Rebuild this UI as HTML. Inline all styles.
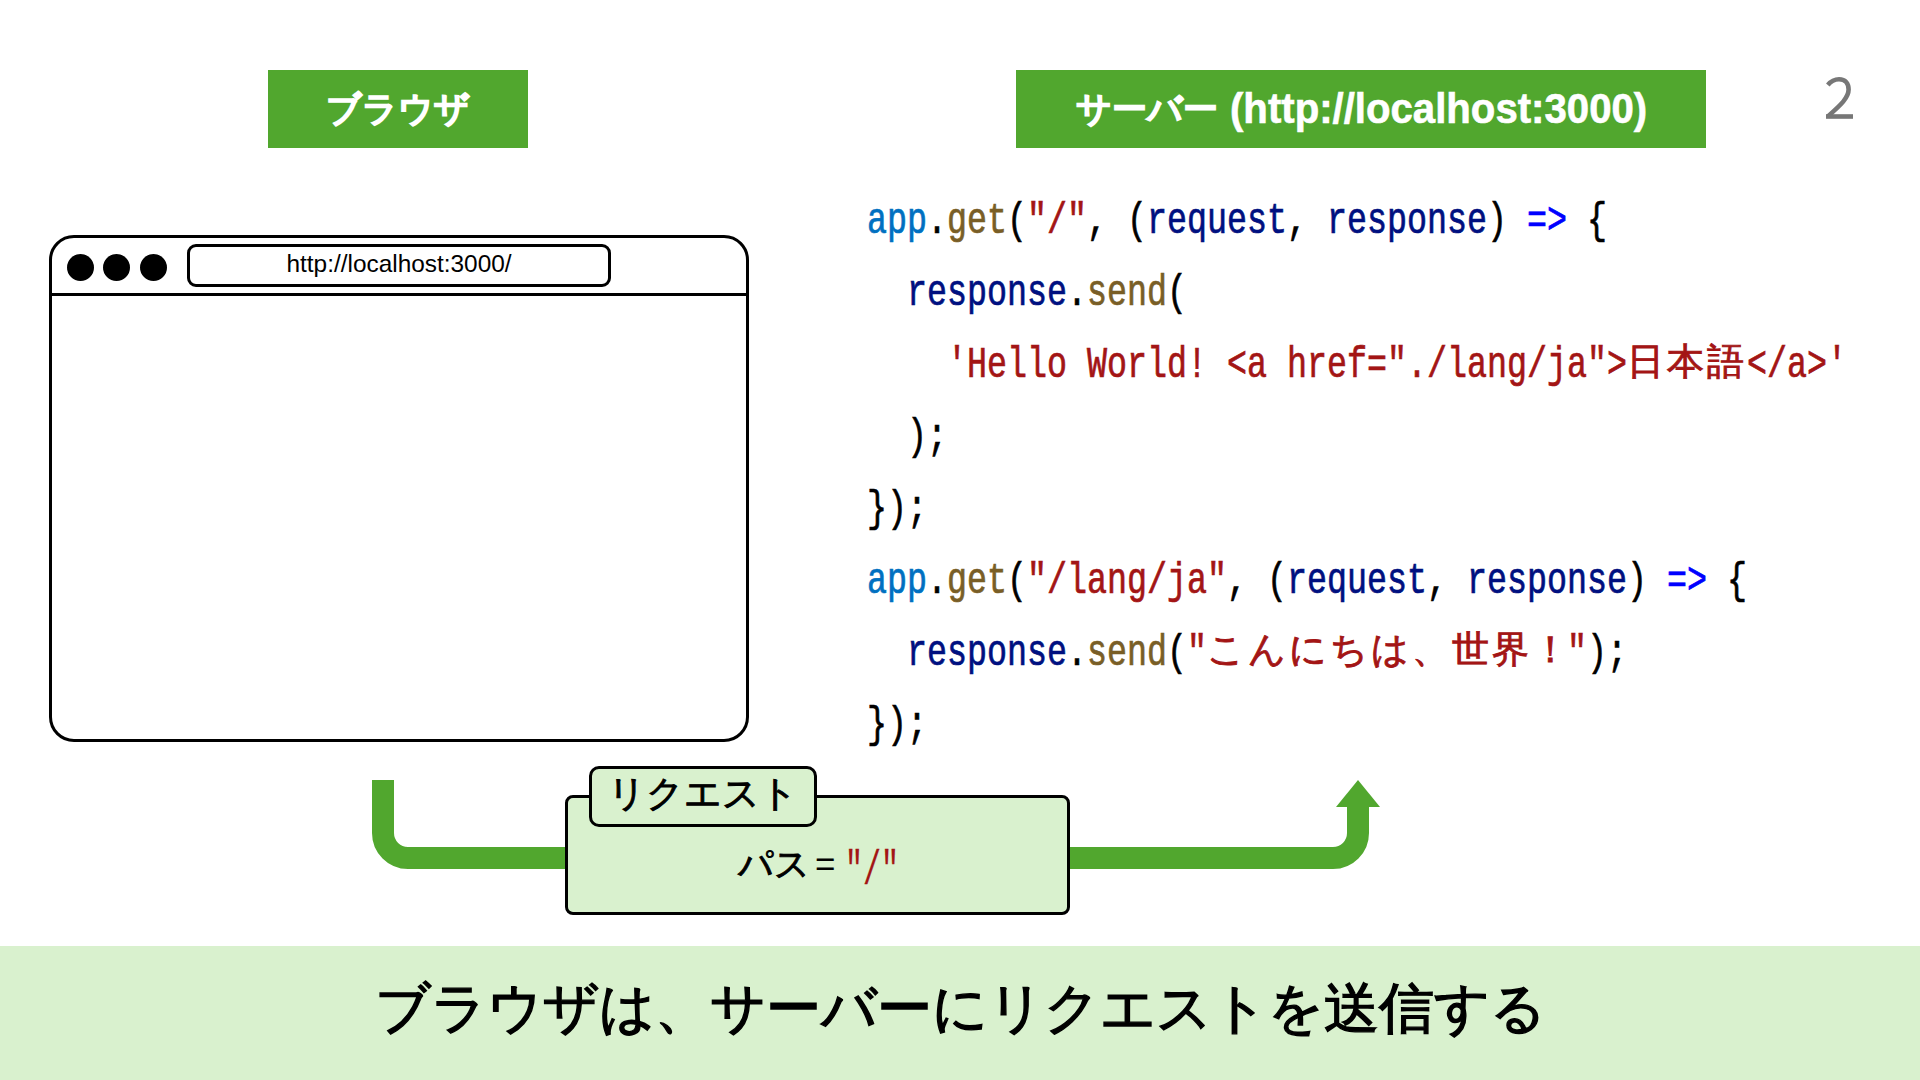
<!DOCTYPE html>
<html><head><meta charset="utf-8">
<style>
html,body{margin:0;padding:0;}
body{width:1920px;height:1080px;position:relative;overflow:hidden;background:#fff;font-family:"Liberation Sans",sans-serif;color:#000;}
.abs{position:absolute;}
.label{position:absolute;background:#51a72e;color:#fff;font-weight:bold;text-align:center;white-space:nowrap;}
#lb1{left:268px;top:70px;width:260px;height:78px;}
#lb2{left:1016px;top:70px;width:690px;height:78px;}
.wt{position:absolute;color:#fff;white-space:pre;}
#lt1{left:326px;top:70px;font-size:35px;line-height:78px;-webkit-text-stroke:2.2px #fff;}
#lt2{left:1076px;top:70px;font-size:35px;line-height:78px;-webkit-text-stroke:2.2px #fff;}
#lt3{left:1230px;top:70px;font-size:42px;line-height:78px;font-weight:bold;transform:scaleX(0.956);transform-origin:0 0;-webkit-text-stroke:0.6px #fff;}
#pnum{left:1822px;top:67px;font-size:61px;line-height:64px;color:#808080;}
#win{left:49px;top:235px;width:694px;height:501px;border:3px solid #000;border-radius:25px;}
#hline{left:52px;top:293px;width:694px;height:3px;background:#000;}
.dot{position:absolute;width:27px;height:27px;border-radius:50%;background:#000;top:254px;}
#url{left:187px;top:244px;width:418px;height:37px;border:3px solid #000;border-radius:9px;font-size:24.4px;line-height:33px;text-align:center;}
.as{position:absolute;font-family:"Liberation Mono",monospace;font-size:43.5px;line-height:72px;white-space:pre;transform:scaleX(0.76628);transform-origin:0 0;font-weight:normal;-webkit-text-stroke:0.7px currentColor;}
.cj{position:absolute;font-size:37px;line-height:72px;white-space:pre;letter-spacing:3px;-webkit-text-stroke:0.9px currentColor;}
.k1{color:#0070c1}.fn{color:#795e26}.st{color:#a31515}.vr{color:#001080}.op{color:#0000ff}
#banner{left:0;top:946px;width:1920px;height:134px;background:#d9f1ce;}
#bantext{left:0;top:946px;width:1920px;font-size:55px;line-height:124px;text-align:center;-webkit-text-stroke:1.4px #000;}
#box{left:565px;top:795px;width:499px;height:114px;border:3px solid #000;border-radius:8px;background:#d9f1ce;}
#tab{left:589px;top:766px;width:222px;height:55px;border:3px solid #000;border-radius:10px;background:#d9f1ce;font-size:36.5px;line-height:49px;text-align:center;-webkit-text-stroke:0.9px #000;}
#path{left:738px;top:840px;font-size:35px;line-height:48px;white-space:pre;-webkit-text-stroke:0.9px #000;}
#eq{left:815px;top:840px;font-size:35px;line-height:48px;}
#pq{left:845px;top:835px;color:#a31515;font-size:47.5px !important;transform:scaleX(0.632) !important;-webkit-text-stroke:0.3px #a31515 !important;}
</style></head><body>
<div class="label" id="lb1"></div>
<div class="label" id="lb2"></div>
<div class="wt" id="lt1">ブラウザ</div>
<div class="wt" id="lt2">サーバー</div>
<div class="wt" id="lt3">(http://localhost:3000)</div>
<svg class="abs" style="left:1800px;top:60px" width="80" height="70" viewBox="1800 60 80 70"><path d="M1827.8,85 C1830.8,81.4 1834.6,79.3 1839,79.3 C1845.6,79.3 1848.6,83.6 1848.6,89.6 C1848.6,97.6 1841.2,104.6 1827.6,116.6" fill="none" stroke="#777" stroke-width="4.6"/><rect x="1826" y="114.2" width="27" height="4.6" fill="#777"/></svg>

<div class="abs" id="win"></div>
<div class="abs" id="hline"></div>
<div class="dot" style="left:67px"></div>
<div class="dot" style="left:103px"></div>
<div class="dot" style="left:140px"></div>
<div class="abs" id="url">http://localhost:3000/</div>

<span class="as k1" style="left:867px;top:186px">app</span>
<span class="as " style="left:927px;top:186px">.</span>
<span class="as fn" style="left:947px;top:186px">get</span>
<span class="as " style="left:1007px;top:186px">(</span>
<span class="as st" style="left:1027px;top:186px">"/"</span>
<span class="as " style="left:1087px;top:186px">, (</span>
<span class="as vr" style="left:1147px;top:186px">request</span>
<span class="as " style="left:1287px;top:186px">, </span>
<span class="as vr" style="left:1327px;top:186px">response</span>
<span class="as " style="left:1487px;top:186px">) </span>
<span class="as op" style="left:1527px;top:186px">=&gt;</span>
<span class="as " style="left:1567px;top:186px"> {</span>
<span class="as vr" style="left:907px;top:258px">response</span>
<span class="as " style="left:1067px;top:258px">.</span>
<span class="as fn" style="left:1087px;top:258px">send</span>
<span class="as " style="left:1167px;top:258px">(</span>
<span class="as st" style="left:947px;top:330px">'Hello World! &lt;a href="./lang/ja"&gt;</span>
<span class="cj st" style="left:1627px;top:326px">日本語</span>
<span class="as st" style="left:1747px;top:330px">&lt;/a&gt;'</span>
<span class="as " style="left:867px;top:402px">  );</span>
<span class="as " style="left:867px;top:474px">});</span>
<span class="as k1" style="left:867px;top:546px">app</span>
<span class="as " style="left:927px;top:546px">.</span>
<span class="as fn" style="left:947px;top:546px">get</span>
<span class="as " style="left:1007px;top:546px">(</span>
<span class="as st" style="left:1027px;top:546px">"/lang/ja"</span>
<span class="as " style="left:1227px;top:546px">, (</span>
<span class="as vr" style="left:1287px;top:546px">request</span>
<span class="as " style="left:1427px;top:546px">, </span>
<span class="as vr" style="left:1467px;top:546px">response</span>
<span class="as " style="left:1627px;top:546px">) </span>
<span class="as op" style="left:1667px;top:546px">=&gt;</span>
<span class="as " style="left:1707px;top:546px"> {</span>
<span class="as vr" style="left:907px;top:618px">response</span>
<span class="as " style="left:1067px;top:618px">.</span>
<span class="as fn" style="left:1087px;top:618px">send</span>
<span class="as " style="left:1167px;top:618px">(</span>
<span class="as st" style="left:1187px;top:618px">"</span>
<span class="cj st" style="left:1207px;top:614px">こんにちは、世界！</span>
<span class="as st" style="left:1567px;top:618px">"</span>
<span class="as " style="left:1587px;top:618px">);</span>
<span class="as " style="left:867px;top:690px">});</span>
<svg class="abs" style="left:0;top:0" width="1920" height="1080">
<path d="M383,780 V833 A25,25 0 0 0 408,858 H570" fill="none" stroke="#51a72e" stroke-width="22"/>
<path d="M1066,858 H1333 A25,25 0 0 0 1358,833 V805" fill="none" stroke="#51a72e" stroke-width="22"/>
<polygon points="1336,807 1358,780 1380,807" fill="#51a72e"/>
</svg>
<div class="abs" id="box"></div>
<div class="abs" id="tab">リクエスト</div>
<div class="abs" id="path">パス</div>
<div class="abs" id="eq">=</div>
<span class="as" id="pq">"/"</span>

<div class="abs" id="banner"></div>
<div class="abs" id="bantext">ブラウザは、サーバーにリクエストを送信する</div>
</body></html>
